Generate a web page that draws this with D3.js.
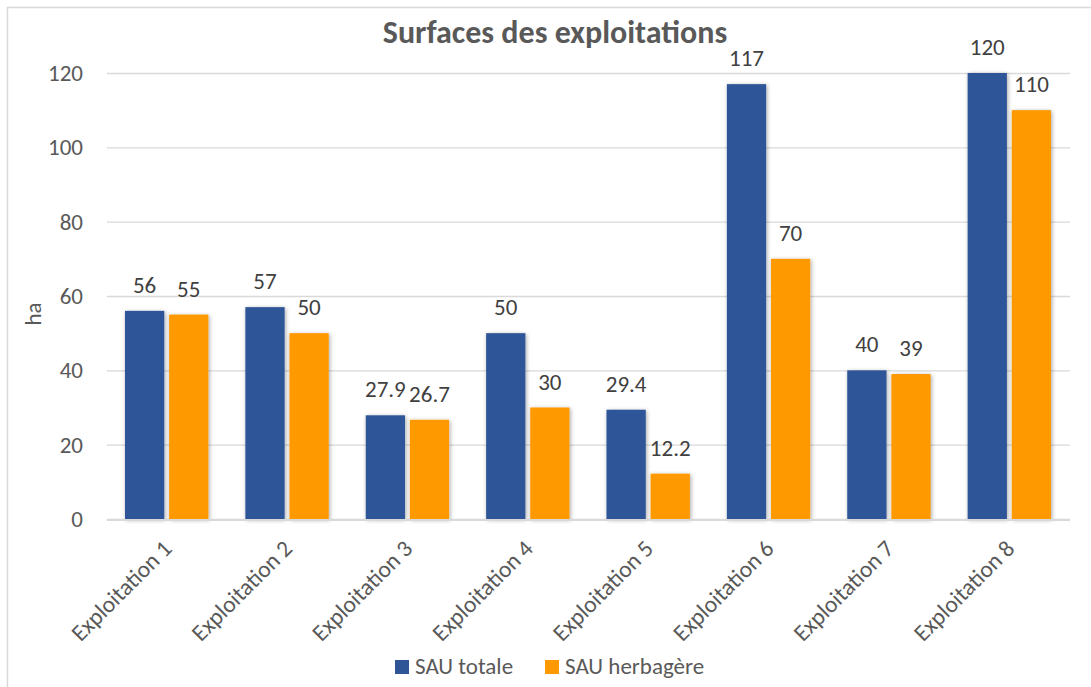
<!DOCTYPE html>
<html>
<head>
<meta charset="utf-8">
<script src="https://cdn.jsdelivr.net/npm/d3@7"></script>
<style>
  body { margin: 0; background: #fff; }
  svg text { font-family: Carlito, Calibri, "Open Sans", sans-serif; }
</style>
</head>
<body>
<svg id="chart" width="1091" height="687"></svg>
<script>
"use strict";

var categories = ["Exploitation 1", "Exploitation 2", "Exploitation 3", "Exploitation 4",
  "Exploitation 5", "Exploitation 6", "Exploitation 7", "Exploitation 8"];
var sauTotale = [56, 57, 27.9, 50, 29.4, 117, 40, 120];
var sauHerbagere = [55, 50, 26.7, 30, 12.2, 70, 39, 110];
var seriesNames = ["SAU totale", "SAU herbagère"];
var seriesColors = ["#2F5597", "#FF9900"];
var yTicks = [0, 20, 40, 60, 80, 100, 120];

var svg = d3.select("#chart");
var W = 1091, H = 687;

// drop shadow like the excel bars
var defs = svg.append("defs");
var f = defs.append("filter").attr("id", "shadow")
  .attr("x", "-30%").attr("y", "-10%").attr("width", "160%").attr("height", "120%");
f.append("feDropShadow").attr("dx", 1).attr("dy", 1).attr("stdDeviation", 2.2)
  .attr("flood-color", "#000").attr("flood-opacity", 0.35);

// outer frame
svg.append("rect")
  .attr("x", 7.5).attr("y", 7.5).attr("width", W + 10).attr("height", H + 10)
  .attr("fill", "#fff").attr("stroke", "#D9D9D9").attr("stroke-width", 1.5);

var margin = {top: 73, left: 107, right: 21, bottom: 168};
var width = W - margin.left - margin.right,
  height = H - margin.top - margin.bottom;

var g = svg.append("g").attr("transform", "translate(" + margin.left + "," + margin.top + ")");

var x = d3.scaleBand().domain(categories).range([0, width]);
var xs = d3.scaleBand().domain(seriesNames).range([18, x.bandwidth() - 19]).paddingInner(0.11);
var y = d3.scaleLinear().domain([0, 120]).range([height, 0]);

// gridlines
g.append("g")
  .call(d3.axisLeft(y).tickValues(yTicks).tickSize(-width).tickFormat(""))
  .call(a => a.select(".domain").remove())
  .call(a => a.selectAll("line").attr("stroke", "#D9D9D9").attr("stroke-width", 1.3));

// y labels
g.append("g")
  .call(d3.axisLeft(y).tickValues(yTicks).tickSize(0).tickPadding(24))
  .call(a => a.select(".domain").remove())
  .call(a => a.selectAll("text").attr("fill", "#595959").attr("font-size", 23));

svg.append("text")
  .attr("transform", "translate(41,314) rotate(-90)")
  .attr("text-anchor", "middle")
  .attr("fill", "#595959").attr("font-size", 23)
  .text("ha");

var data = [sauTotale, sauHerbagere];

var groups = g.selectAll(".grp").data(categories).enter().append("g")
  .attr("transform", d => "translate(" + x(d) + ",0)");

groups.selectAll("rect").data((d, i) => data.map((s, k) => ({k: k, v: s[i]})))
  .enter().append("rect")
  .attr("x", d => xs(seriesNames[d.k]))
  .attr("width", xs.bandwidth())
  .attr("y", d => y(d.v))
  .attr("height", d => height - y(d.v))
  .attr("fill", d => seriesColors[d.k])
  .attr("filter", "url(#shadow)");

groups.selectAll(".lbl").data((d, i) => data.map((s, k) => ({k: k, v: s[i]})))
  .enter().append("text")
  .attr("x", d => xs(seriesNames[d.k]) + xs.bandwidth() / 2)
  .attr("y", d => y(d.v) - 18)
  .attr("text-anchor", "middle")
  .attr("fill", "#404040").attr("font-size", 23)
  .text(d => d.v);

// x axis baseline
g.append("line")
  .attr("x1", 0).attr("x2", width).attr("y1", height + 1).attr("y2", height + 1)
  .attr("stroke", "#D9D9D9").attr("stroke-width", 2);

// x labels
g.selectAll(".xl").data(categories).enter().append("text")
  .attr("transform", d => "translate(" + (x(d) + x.bandwidth() / 2 + 6) + "," + (height + 31) + ") rotate(-45)")
  .attr("text-anchor", "end")
  .attr("fill", "#595959").attr("font-size", 23.5)
  .text(d => d);

// title
svg.append("text")
  .attr("x", 555).attr("y", 43)
  .attr("text-anchor", "middle")
  .attr("fill", "#595959").attr("font-size", 32).attr("font-weight", "bold")
  .text("Surfaces des exploitations");

// legend
var leg = svg.append("g").attr("transform", "translate(395,660)");
var items = leg.selectAll("g").data(seriesNames).enter().append("g")
  .attr("transform", (d, i) => "translate(" + (i * 150) + ",0)");
items.append("rect").attr("width", 14).attr("height", 14)
  .attr("fill", (d, i) => seriesColors[i]);
items.append("text").attr("x", 20).attr("y", 14)
  .attr("fill", "#595959").attr("font-size", 23)
  .text(d => d);
</script>
</body>
</html>
